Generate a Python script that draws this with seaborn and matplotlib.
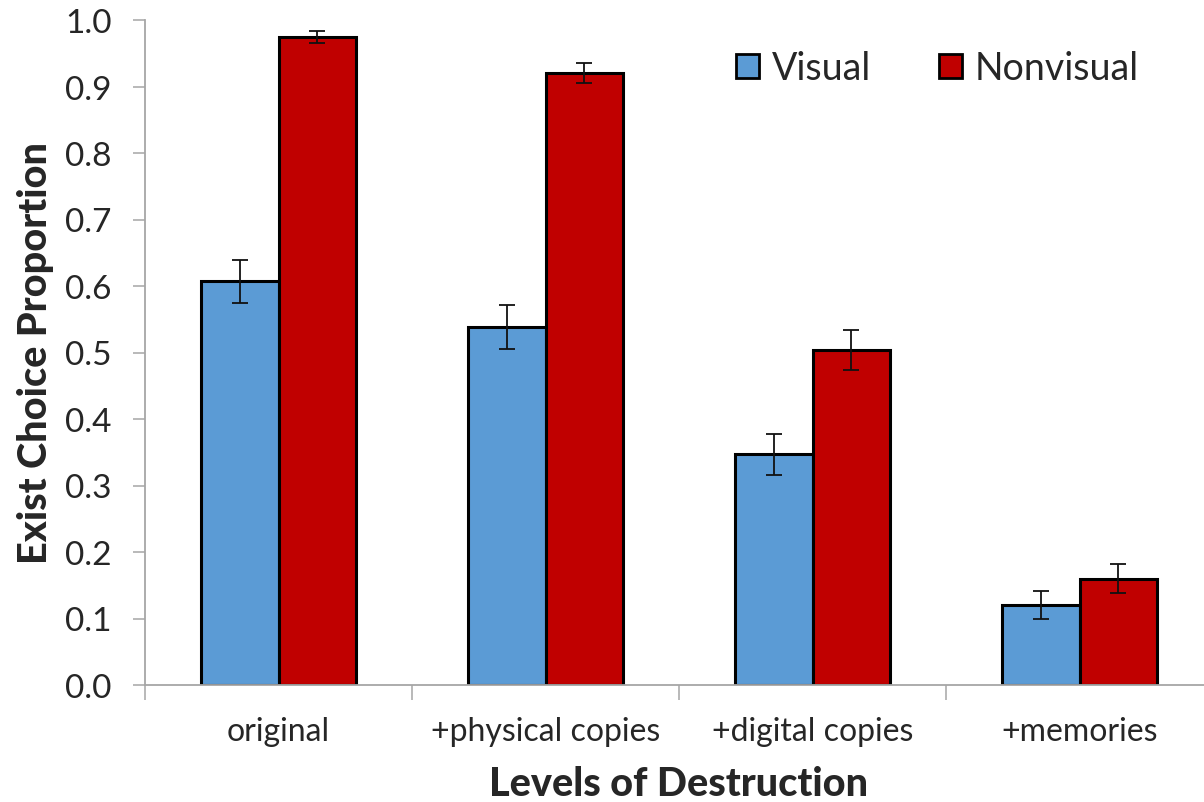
import numpy as np
import pandas as pd
import matplotlib.pyplot as plt
import seaborn as sns
from matplotlib.patches import Patch
from matplotlib.ticker import MultipleLocator

# datos
niveles = ['original', '+physical copies', '+digital copies', '+memories']
grupos = ['Visual', 'Nonvisual']
visual = [0.607, 0.538, 0.347, 0.120]
nonvisual = [0.974, 0.921, 0.504, 0.160]
err_visual = [0.032, 0.033, 0.031, 0.021]
err_nonvisual = [0.009, 0.015, 0.030, 0.022]

colores = {'Visual': '#5B9BD5', 'Nonvisual': '#C00000'}
gris = '#A6A6A6'

df = pd.DataFrame({
    'Nivel': niveles * 2,
    'Grupo': ['Visual'] * 4 + ['Nonvisual'] * 4,
    'Proporcion': visual + nonvisual,
    'Error': err_visual + err_nonvisual,
})

sns.set_style('white')
plt.rcParams['font.family'] = ['Lato', 'DejaVu Sans']

fig = plt.figure(figsize=(12.04, 8.03), dpi=100)
ax = fig.add_axes([145 / 1204, 1 - 686 / 803, 1068 / 1204, 665 / 803])

sns.barplot(data=df, x='Nivel', y='Proporcion', hue='Grupo', order=niveles,
            hue_order=grupos, palette=colores, width=0.58, errorbar=None,
            edgecolor='black', linewidth=2.2, saturation=1, ax=ax, legend=False)

# barras de error sobre el centro de cada barra
for cont, g in zip(ax.containers, grupos):
    sub = df[df['Grupo'] == g].set_index('Nivel').loc[niveles]
    xs = [p.get_x() + p.get_width() / 2 for p in cont.patches]
    ax.errorbar(xs, sub['Proporcion'], yerr=sub['Error'], fmt='none',
                ecolor='#111111', elinewidth=1.3, capsize=6, capthick=1.3, zorder=5)

ax.set_xlim(-0.5, 3.5)
ax.set_ylim(0, 1.0)
ax.yaxis.set_major_locator(MultipleLocator(0.1))
ax.set_yticklabels([f'{v:.1f}' for v in ax.get_yticks()])
ax.xaxis.set_minor_locator(MultipleLocator(1, offset=0.5))

for s in ['top', 'right']:
    ax.spines[s].set_visible(False)
for s in ['left', 'bottom']:
    ax.spines[s].set_color(gris)
    ax.spines[s].set_linewidth(1.3)

ax.tick_params(axis='y', which='major', direction='out', length=9, width=1.1,
               color=gris, labelsize=24, labelcolor='#262626', pad=15, left=True)
ax.tick_params(axis='x', which='major', length=0, labelsize=23,
               labelcolor='#262626', pad=22)
ax.tick_params(axis='x', which='minor', direction='out', length=11, width=1.1,
               color=gris, bottom=True)

ax.set_xlabel('Levels of Destruction', fontsize=28.5, fontweight='black', labelpad=14)
ax.set_ylabel('Exist Choice Proportion', fontsize=28.5, fontweight='black', labelpad=8)

handles = [Patch(facecolor=colores[g], edgecolor='black', linewidth=2) for g in grupos]
ax.legend(handles, grupos, loc='upper right', bbox_to_anchor=(0.9625, 1.005), ncol=2,
          frameon=False, fontsize=27, handlelength=0.62, handleheight=0.62,
          handletextpad=0.35, columnspacing=1.8)

fig.savefig('out.png', dpi=100)
